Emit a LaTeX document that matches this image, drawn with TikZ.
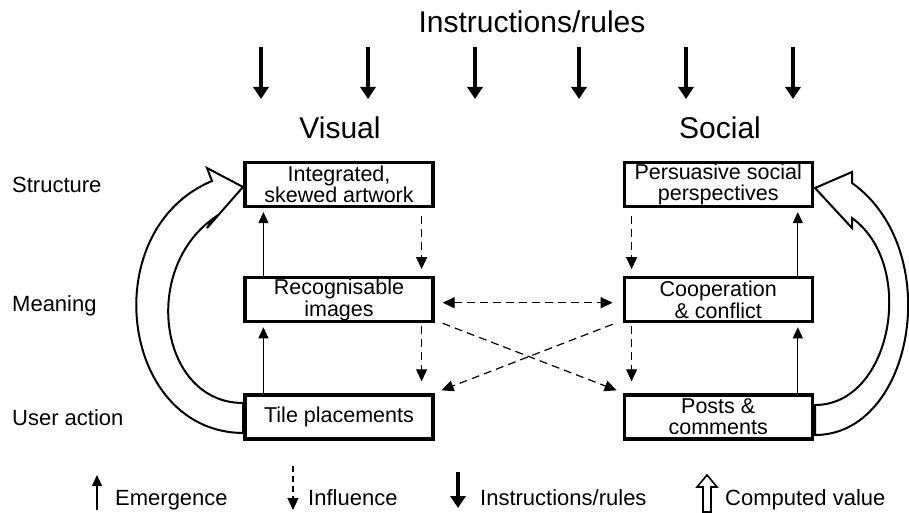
\documentclass[tikz,border=0pt]{standalone}
\usepackage{fontspec}
\setmainfont{Liberation Sans}
\usetikzlibrary{arrows.meta}
\usetikzlibrary{positioning}
\tikzset{box/.style = {draw, line width=3.2, minimum width=188, minimum height=44,
                       inner xsep=0, inner ysep=1.2, align=center,
                       font=\fontsize{21.5}{21.5}\selectfont}}
\tikzset{lbl/.style = {inner sep=0, font=\fontsize{22}{22}\selectfont}}
\tikzset{emerg/.style = {line width=1.1, -{Triangle[length=11pt, width=10pt]}}}
\tikzset{infl/.style = {line width=1.2, dash pattern=on 8pt off 5pt,
                        -{Triangle[length=12pt, width=11pt]}}}
\tikzset{instr/.style = {line width=4, -{Triangle[length=12pt, width=15pt]}}}
\tikzset{valarrow/.style = {draw, line width=2, fill=white, line join=miter}}

\begin{document}
\begin{tikzpicture}[x=1pt, y=-1pt]
      \useasboundingbox (0, 0) rectangle (909, 513);
      % heading and rules
      \node [lbl, font=\fontsize{30}{30}\selectfont, anchor=base] (title) at (532, 33) {Instructions/rules};
      \draw [instr] (261, 47) -- (261, 99);
      \draw [instr] (368, 47) -- (368, 99);
      \draw [instr] (475, 47) -- (475, 99);
      \draw [instr] (579, 47) -- (579, 99);
      \draw [instr] (686, 47) -- (686, 99);
      \draw [instr] (793, 47) -- (793, 99);
      \node [lbl, font=\fontsize{30}{30}\selectfont, anchor=base] (visual) at (340, 139) {Visual};
      \node [lbl, font=\fontsize{30}{30}\selectfont, anchor=base] (social) at (720, 139) {Social};
      % levels
      \node [lbl, anchor=base west] (structure) at (12, 192) {Structure};
      \node [lbl, anchor=base west] (meaning) at (12, 311) {Meaning};
      \node [lbl, anchor=base west] (action) at (12, 425) {User action};
      % computed value
      \draw [valarrow] (243, 433) .. controls (120, 432) and (95, 230) .. (212, 181)
            -- (207, 168) -- (243, 187) -- (207, 228) -- (214, 218)
            .. controls (140, 270) and (160, 403) .. (243, 403) -- cycle;
      \draw [valarrow] (815, 435) .. controls (914, 435) and (946, 250) .. (852, 183)
            -- (852, 172) -- (815, 188) -- (852, 228) -- (852, 218)
            .. controls (917, 265) and (892, 405) .. (815, 405) -- cycle;
      % boxes
      \node [box] (visS) at (339, 184.5) {Integrated,\\skewed artwork};
      \node [box, below=68pt of visS] (visM) {Recognisable\\images};
      \node [box, below=70pt of visM] (visU) {Tile placements};
      \node [box, right=188pt of visS] (socS) {Persuasive social\\perspectives};
      \node [box, below=68pt of socS] (socM) {Cooperation\\\& conflict};
      \node [box, below=70pt of socM] (socU) {Posts \&\\comments};
      % emergence
      \draw [emerg, shorten >=4pt] ([xshift=20pt]visU.north west) -- ([xshift=20pt]visM.south west);
      \draw [emerg, shorten >=4pt] ([xshift=20pt]visM.north west) -- ([xshift=20pt]visS.south west);
      \draw [emerg, shorten >=4pt] ([xshift=-16pt]socU.north east) -- ([xshift=-16pt]socM.south east);
      \draw [emerg, shorten >=4pt] ([xshift=-16pt]socM.north east) -- ([xshift=-16pt]socS.south east);
      % influence
      \draw [infl, shorten <=8pt, shorten >=7pt] ([xshift=-13pt]visS.south east) -- ([xshift=-13pt]visM.north east);
      \draw [infl, shorten <=3pt, shorten >=12pt] ([xshift=-13pt]visM.south east) -- ([xshift=-13pt]visU.north east);
      \draw [infl, shorten <=8pt, shorten >=7pt] ([xshift=9pt]socS.south west) -- ([xshift=9pt]socM.north west);
      \draw [infl, shorten <=3pt, shorten >=12pt] ([xshift=9pt]socM.south west) -- ([xshift=9pt]socU.north west);
      \draw [infl, {Triangle[length=12pt, width=11pt]}-{Triangle[length=12pt, width=11pt]}]
            ([shift={(8pt,-3pt)}]visM.east) -- ([shift={(-10pt,-3pt)}]socM.west);
      \draw [infl] ([xshift=8pt]visM.south east) -- ([shift={(-6pt,3pt)}]socU.north west);
      \draw [infl] ([shift={(-10pt,-1pt)}]socM.south west) -- ([shift={(7pt,3pt)}]visU.north east);
      % legend
      \draw [emerg] (97, 510) -- (97, 475);
      \node [lbl, anchor=base west] (lemerg) at (115, 505) {Emergence};
      \draw [infl, dash pattern=on 6pt off 4pt] (293, 466) -- (293, 510);
      \node [lbl, anchor=base west] (linfl) at (308, 505) {Influence};
      \draw [instr] (458, 472) -- (458, 508);
      \node [lbl, anchor=base west] (linstr) at (480, 505) {Instructions/rules};
      \draw [valarrow, line width=1.6] (703, 512) -- (703, 487) -- (697, 487) -- (707, 475)
            -- (717, 487) -- (711, 487) -- (711, 512) -- cycle;
      \node [lbl, anchor=base west] (lval) at (725, 505) {Computed value};
    \end{tikzpicture}
\end{document}
